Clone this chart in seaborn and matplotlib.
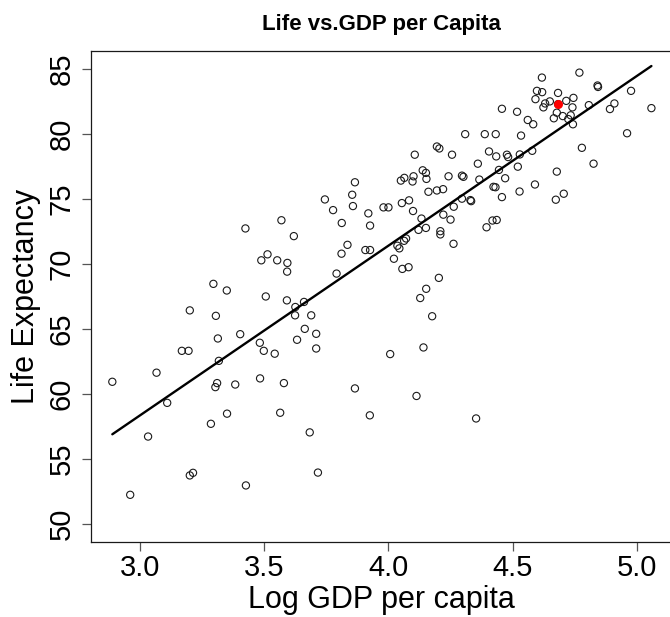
import numpy as np
import pandas as pd
import matplotlib
matplotlib.use("Agg")
import matplotlib.pyplot as plt
import seaborn as sns

sns.set_style("ticks")
plt.rcParams["font.family"] = ["Liberation Sans", "DejaVu Sans"]
plt.rcParams["text.color"] = "black"
plt.rcParams["xtick.labelcolor"] = "black"
plt.rcParams["ytick.labelcolor"] = "black"
plt.rcParams["axes.labelcolor"] = "black"

# values
log_gdp = [
    3.295, 3.349, 3.506, 3.591, 3.200, 3.305, 3.313, 3.403, 3.168, 3.195,
    3.482, 3.498, 3.542, 3.317, 3.066, 2.888, 3.310, 3.303, 3.383, 3.483,
    3.579, 3.109, 3.350, 3.564, 3.285, 3.032, 3.213, 3.200, 3.426, 2.960,
    3.569, 3.424, 3.513, 3.488, 3.552, 3.593, 3.592, 4.106, 4.195, 4.205,
    4.256, 4.360, 3.865, 4.050, 4.064, 4.101, 4.097, 4.138, 4.151, 4.153,
    4.242, 4.296, 4.302, 3.854, 3.744, 3.857, 3.777, 3.919, 4.161, 4.195,
    4.220, 4.054, 4.083, 3.980, 4.000, 4.099, 4.296, 4.330, 4.333, 4.366,
    4.263, 4.221, 4.250, 4.133, 3.812, 3.926, 3.619, 4.121, 4.151, 4.209,
    4.209, 4.071, 4.063, 4.036, 4.044, 3.835, 3.811, 3.907, 3.926, 4.262,
    4.022, 4.056, 4.081, 3.791, 4.203, 4.152, 4.128, 4.176, 3.625, 3.660,
    3.624, 3.689, 3.663, 3.709, 3.632, 3.709, 4.007, 4.141, 3.865, 4.113,
    3.925, 4.353, 3.683, 3.716, 4.309, 4.769, 4.618, 4.842, 4.844, 4.598,
    4.619, 4.683, 4.745, 4.592, 4.650, 4.716, 4.631, 4.624, 4.741, 4.807,
    4.977, 4.910, 4.892, 5.059, 4.457, 4.518, 4.678, 4.666, 4.702, 4.734,
    4.724, 4.743, 4.561, 4.583, 4.388, 4.432, 4.534, 4.961, 4.779, 4.405,
    4.434, 4.477, 4.482, 4.529, 4.579, 4.445, 4.521, 4.826, 4.470, 4.678,
    4.423, 4.431, 4.590, 4.528, 4.457, 4.674, 4.706, 4.419, 4.436, 4.395,
]
life_exp = [
    68.47, 67.96, 67.50, 67.20, 66.43, 66.01, 64.27, 64.60, 63.32, 63.32,
    63.94, 63.32, 63.10, 62.55, 61.64, 60.94, 60.84, 60.53, 60.73, 61.20,
    60.84, 59.32, 58.49, 58.56, 57.71, 56.73, 53.94, 53.74, 52.97, 52.25,
    73.36, 72.73, 70.74, 70.28, 70.28, 70.08, 69.41, 78.40, 79.03, 78.88,
    78.40, 77.71, 76.28, 76.41, 76.62, 76.74, 76.34, 77.20, 77.00, 76.54,
    76.74, 76.79, 76.70, 75.32, 74.96, 74.45, 74.14, 73.89, 75.55, 75.65,
    75.75, 74.68, 74.89, 74.35, 74.35, 74.07, 75.02, 74.91, 74.83, 76.49,
    74.40, 73.79, 73.41, 73.49, 73.15, 72.95, 72.14, 72.62, 72.77, 72.52,
    72.27, 71.96, 71.78, 71.40, 71.20, 71.47, 70.79, 71.07, 71.07, 71.55,
    70.40, 69.62, 69.75, 69.26, 68.93, 68.09, 67.38, 65.98, 66.69, 67.08,
    66.05, 66.05, 65.01, 64.63, 64.17, 63.50, 63.07, 63.58, 60.43, 59.85,
    58.36, 58.12, 57.05, 53.96, 79.98, 84.71, 84.33, 83.72, 83.61, 83.31,
    83.21, 83.15, 82.77, 82.67, 82.50, 82.54, 82.34, 82.04, 82.04, 82.21,
    83.31, 82.34, 81.91, 81.98, 81.93, 81.70, 81.63, 81.20, 81.37, 81.43,
    81.14, 80.74, 81.07, 80.74, 79.98, 79.98, 79.87, 80.05, 78.93, 78.65,
    78.27, 78.40, 78.22, 78.42, 78.70, 77.23, 77.48, 77.71, 76.59, 77.10,
    75.93, 75.90, 76.11, 75.57, 75.14, 74.94, 75.40, 73.34, 73.38, 72.82,
]
# the one country drawn in red
highlight_gdp = [4.683]
highlight_life = [82.29]

df = pd.DataFrame({"log_gdp": log_gdp + highlight_gdp,
                   "life": life_exp + highlight_life})

fig = plt.figure(figsize=(6.7, 6.17), dpi=100)
ax = fig.add_axes([0.1354, 0.1211, 0.8691, 0.7968])

sns.regplot(data=df, x="log_gdp", y="life", ax=ax, ci=None, truncate=True,
            color="black",
            scatter_kws=dict(facecolors="none", edgecolors="#1a1a1a", s=27,
                             linewidths=0.8, alpha=1),
            line_kws=dict(color="black", lw=1.7))
sns.scatterplot(x=highlight_gdp, y=highlight_life, ax=ax, color="red",
                s=42, linewidth=0, zorder=5)

ax.set_xlim(2.801, 5.146)
ax.set_ylim(48.6, 86.4)
ax.set_xticks([3.0, 3.5, 4.0, 4.5, 5.0])
ax.set_xticklabels(["3.0", "3.5", "4.0", "4.5", "5.0"])
ax.set_yticks([50, 55, 60, 65, 70, 75, 80, 85])
ax.set_yticklabels(["50", "55", "60", "65", "70", "75", "80", "85"],
                   rotation=90, va="center")

for s in ax.spines.values():
    s.set_linewidth(0.9)
    s.set_color("#1a1a1a")
ax.tick_params(direction="out", length=6.8, width=0.9, color="#555555",
               labelsize=21, labelcolor="black")
ax.tick_params(axis="x", pad=1.5)
ax.tick_params(axis="y", pad=4)

ax.set_xlabel("Log GDP per capita", fontsize=22, labelpad=2, color="black")
ax.set_ylabel("Life Expectancy", fontsize=22, labelpad=5, color="black")
ax.set_title("Life vs.GDP per Capita", fontsize=16, fontweight="bold",
             pad=15, color="black")

fig.savefig("out.png", dpi=100)
